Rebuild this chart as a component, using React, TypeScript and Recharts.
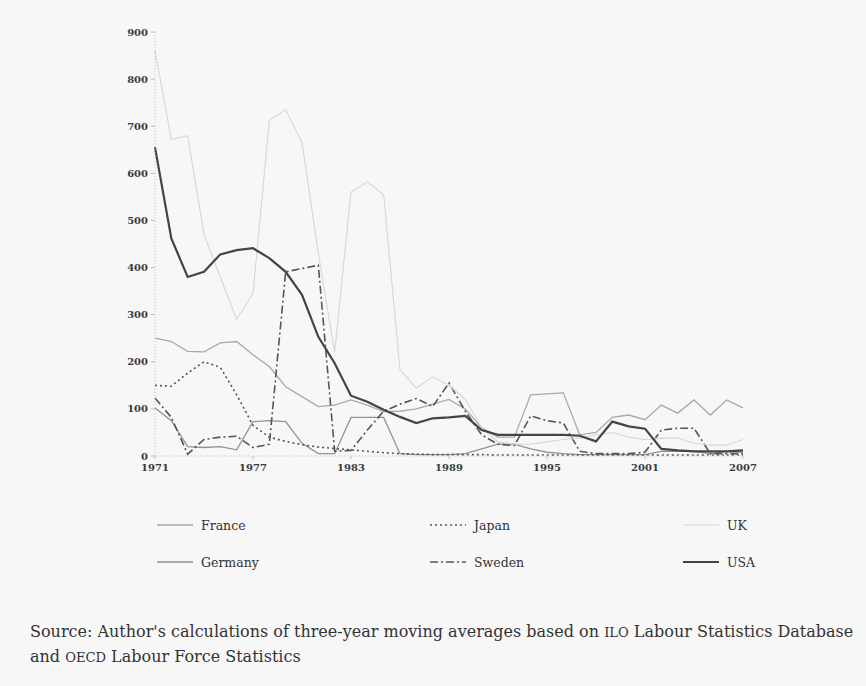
import { LineChart, Line, XAxis, YAxis } from "recharts";

const years = [
  1971, 1972, 1973, 1974, 1975, 1976, 1977, 1978, 1979, 1980, 1981, 1982, 1983,
  1984, 1985, 1986, 1987, 1988, 1989, 1990, 1991, 1992, 1993, 1994, 1995, 1996,
  1997, 1998, 1999, 2000, 2001, 2002, 2003, 2004, 2005, 2006, 2007,
];

const france = [
  250, 243, 222, 221, 240, 243, 215, 190, 147, 126, 105, 108, 119, 108, 94, 95,
  100, 110, 120, 100, 60, 40, 40, 130, 132, 134, 45, 50, 82, 87, 77, 108, 91,
  119, 87, 119, 102,
];
const germany = [
  102, 75, 20, 18, 20, 13, 73, 75, 73, 27, 5, 5, 82, 82, 82, 5, 3, 3, 3, 5, 15,
  25, 25, 15, 8, 5, 3, 3, 3, 3, 3, 10, 10, 10, 5, 10, 8,
];
const japan = [
  150, 148, 176, 200, 188, 130, 65, 40, 31, 24, 19, 16, 13, 10, 7, 5, 4, 3, 3,
  3, 3, 2, 2, 2, 2, 2, 2, 2, 2, 2, 2, 2, 2, 2, 2, 2, 2,
];
const sweden = [
  123, 82, 4, 35, 40, 42, 18, 25, 391, 398, 405, 10, 12, 55, 95, 110, 122, 105,
  155, 95, 45, 25, 22, 85, 75, 70, 10, 5, 5, 5, 8, 55, 59, 59, 5, 5, 5,
];
const uk = [
  860, 672, 680, 470, 380, 290, 345, 713, 735, 665, 430, 220, 560, 582, 554,
  183, 144, 168, 150, 120, 60, 30, 25, 25, 30, 35, 38, 45, 50, 40, 35, 38, 38,
  27, 23, 23, 35,
];
const usa = [
  655, 462, 380, 391, 428, 437, 441, 420, 391, 342, 253, 197, 128, 115, 98, 83,
  70, 80, 82, 85, 55, 45, 45, 45, 45, 45, 43, 31, 73, 63, 58, 15, 12, 10, 10,
  10, 12,
];

const xTicks = [1971, 1977, 1983, 1989, 1995, 2001, 2007];
const yTicks = [0, 100, 200, 300, 400, 500, 600, 700, 800, 900];

const series = [
  { key: "France", values: france, color: "#a9a9a9", width: 1.3, dash: undefined },
  { key: "Germany", values: germany, color: "#929292", width: 1.3, dash: undefined },
  { key: "Japan", values: japan, color: "#555555", width: 1.6, dash: "2 3" },
  { key: "Sweden", values: sweden, color: "#555555", width: 1.6, dash: "8 3 2 3" },
  { key: "UK", values: uk, color: "#d6d6d6", width: 1.1, dash: undefined },
  { key: "USA", values: usa, color: "#444444", width: 2.2, dash: undefined },
];

const data = years.map((year, i) => {
  const row: Record<string, number> = { year };
  series.forEach((s) => (row[s.key] = s.values[i]));
  return row;
});

const serif = "'DejaVu Serif', 'Liberation Serif', serif";
const tickStyle = { fontFamily: serif, fontSize: 10, fontWeight: 700, fill: "#3a3a3a" };

// legend: 3 columns x 2 rows, order as in the reference
const legendCols = [157, 430, 683];
const legendRows = [525, 562];

function LegendItem({ s, x, y }: { s: (typeof series)[number]; x: number; y: number }) {
  return (
    <div style={{ position: "absolute", left: x, top: y - 9, height: 18, display: "flex", alignItems: "center" }}>
      <svg width={36} height={6} style={{ marginRight: 8 }}>
        <line x1={0} y1={3} x2={36} y2={3} stroke={s.color} strokeWidth={s.width} strokeDasharray={s.dash} />
      </svg>
      <span style={{ fontFamily: serif, fontSize: 12.5, color: "#333" }}>{s.key}</span>
    </div>
  );
}

export default function App() {
  return (
    <div style={{ position: "absolute", left: 0, top: 0, width: 866, height: 686, background: "#f7f7f7", overflow: "hidden" }}>
      <LineChart width={866} height={486} data={data} margin={{ top: 32, right: 123, left: 0, bottom: 0 }}>
        <XAxis
          dataKey="year"
          type="number"
          domain={[1971, 2007]}
          ticks={xTicks}
          interval={0}
          height={30}
          axisLine={{ stroke: "#bdbdbd", strokeDasharray: "1 2" }}
          tickLine={{ stroke: "#bdbdbd" }}
          tickSize={3}
          tick={tickStyle}
          tickMargin={5}
        />
        <YAxis
          type="number"
          domain={[0, 900]}
          ticks={yTicks}
          interval={0}
          width={155}
          axisLine={{ stroke: "#bdbdbd", strokeDasharray: "1 2" }}
          tickLine={{ stroke: "#bdbdbd" }}
          tickSize={4}
          tick={tickStyle}
          tickMargin={3}
        />
        {series.map((s) => (
          <Line
            key={s.key}
            dataKey={s.key}
            type="linear"
            stroke={s.color}
            strokeWidth={s.width}
            strokeDasharray={s.dash}
            dot={false}
            activeDot={false}
            isAnimationActive={false}
          />
        ))}
      </LineChart>
      {series.map((s, i) => (
        <LegendItem key={s.key} s={s} x={legendCols[Math.floor(i / 2)]} y={legendRows[i % 2]} />
      ))}
      <div style={{ position: "absolute", left: 30, top: 620, width: 836, fontFamily: serif, fontSize: 16, lineHeight: "24px", color: "#333", whiteSpace: "nowrap" }}>
        Source: Author's calculations of three-year moving averages based on <span style={{ fontSize: "0.82em" }}>ILO</span> Labour
        Statistics Database
        <br />
        and <span style={{ fontSize: "0.82em" }}>OECD</span> Labour Force Statistics
      </div>
    </div>
  );
}
